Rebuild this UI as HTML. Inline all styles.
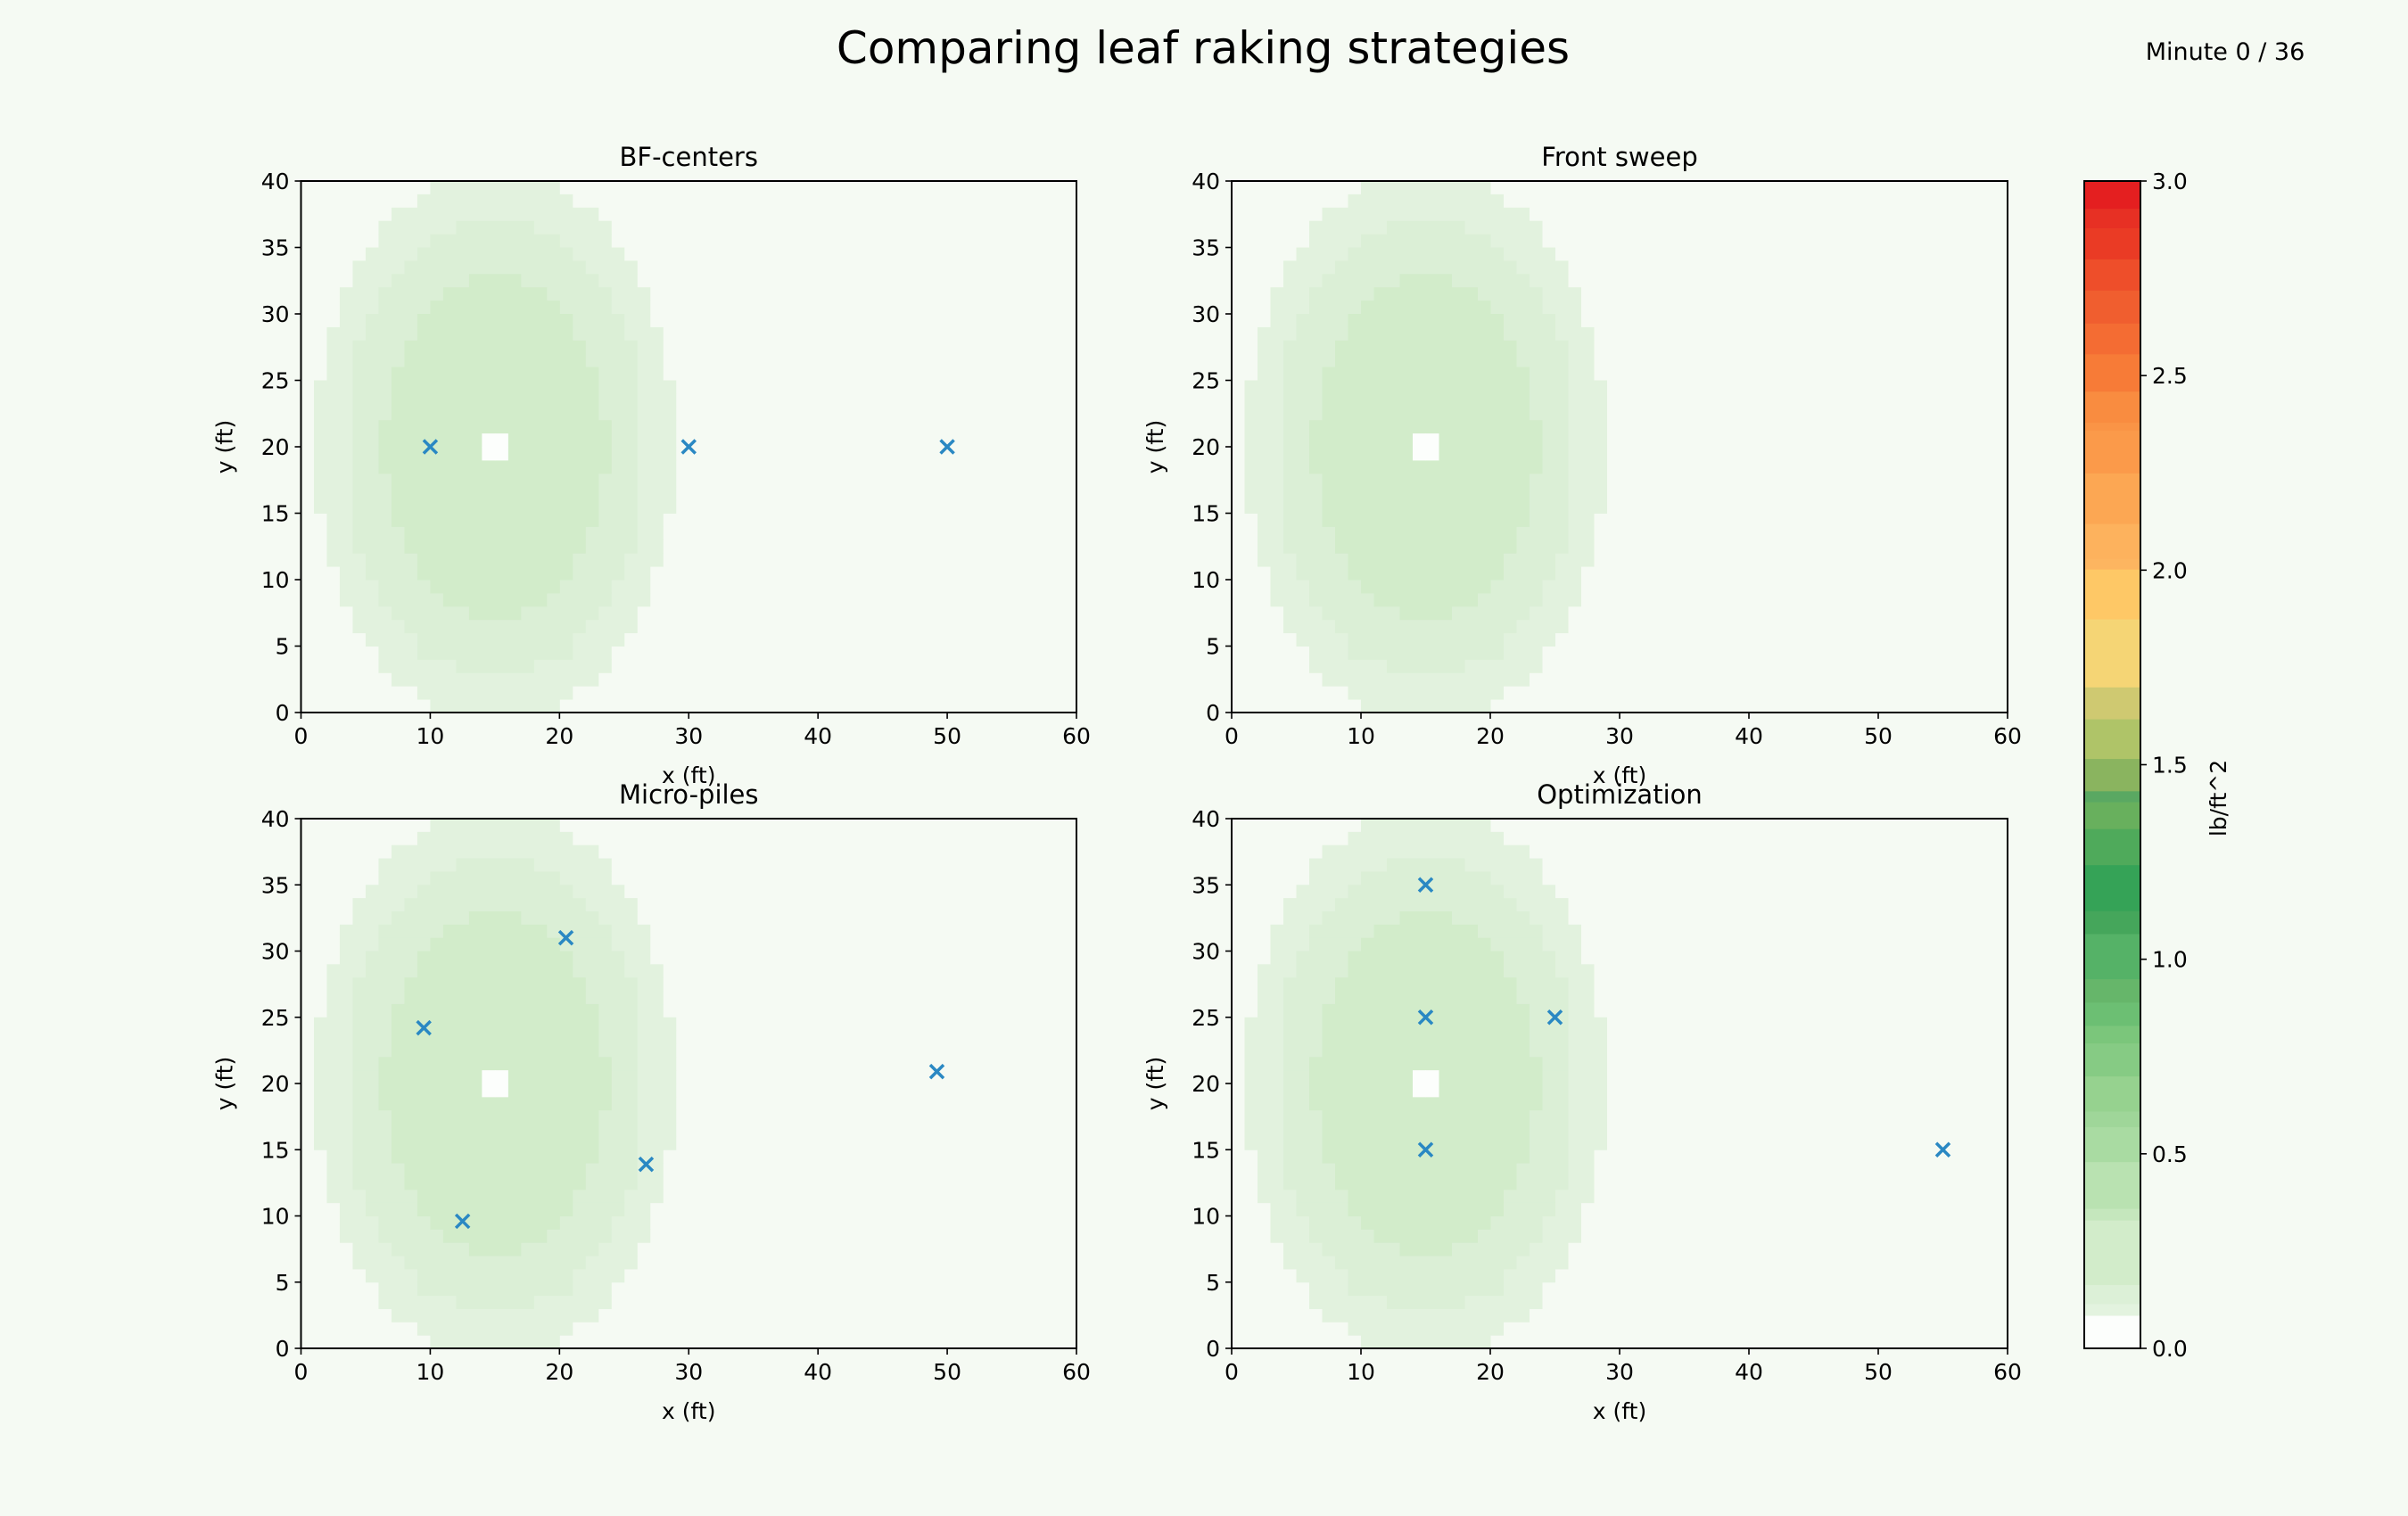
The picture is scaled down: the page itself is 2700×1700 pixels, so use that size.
<!DOCTYPE html>
<html><head><meta charset="utf-8"><style>
html,body{margin:0;padding:0;background:#f5faf3;}
svg{display:block;font-family:"DejaVu Sans","Liberation Sans",sans-serif;}
</style></head><body>
<svg id="fig" width="2700" height="1700" viewBox="0 0 2700 1700" xmlns="http://www.w3.org/2000/svg">
<rect width="2700" height="1700" fill="#f5faf3"/>
<text x="1349" y="71" font-size="50" text-anchor="middle" fill="#000">Comparing leaf raking strategies</text>
<text x="2495" y="67" font-size="27" text-anchor="middle" fill="#000">Minute 0 / 36</text>
</svg>
<script>
// ---- data ----
const panelTitles = ["BF-centers","Front sweep","Micro-piles","Optimization"];
const xTicks = [0,10,20,30,40,50,60];
const yTicks = [0,5,10,15,20,25,30,35,40];
// ring extents per row (row 0 = top row, y 39..40 ft); [x0,x1] in ft
const outerRing = [[10,20],[9,21],[7,23],[6,24],[6,24],[5,25],[4,26],[4,26],[3,27],[3,27],[3,27],[2,28],[2,28],[2,28],[2,28],
 [1,29],[1,29],[1,29],[1,29],[1,29],[1,29],[1,29],[1,29],[1,29],[1,29],[2,28],[2,28],[2,28],[2,28],[3,27],[3,27],[3,27],[4,26],[4,26],[5,25],[6,24],[6,24],[7,23],[9,21],[10,20]];
const middleRing = [null,null,null,[12,18],[10,20],[9,21],[8,22],[7,23],[6,24],[6,24],[5,25],[5,25],[4,26],[4,26],[4,26],
 [4,26],[4,26],[4,26],[4,26],[4,26],[4,26],[4,26],[4,26],[4,26],[4,26],[4,26],[4,26],[4,26],[5,25],[5,25],[6,24],[6,24],[7,23],[8,22],[9,21],[9,21],[12,18],null,null,null];
const innerRing = [null,null,null,null,null,null,null,[13,17],[11,19],[10,20],[9,21],[9,21],[8,22],[8,22],[7,23],[7,23],[7,23],[7,23],
 [6,24],[6,24],[6,24],[6,24],[7,23],[7,23],[7,23],[7,23],[8,22],[8,22],[9,21],[9,21],[10,20],[11,19],[13,17],null,null,null,null,null,null,null];
const emptyCells = [[14,19],[15,19],[14,20],[15,20]]; // [x,y] lower-left ft
const ringColors = ["#e2f2de","#dbefd6","#d2ecca"];
const markersX = [[10,30,50],[],[9.5,20.5,26.7,49.2,12.5],[15,15,25,15,55]];
const markersY = [[20,20,20],[],[24.2,31,13.9,20.9,9.6],[35,25,25,15,15]];
const cbTicks = [0,0.5,1.0,1.5,2.0,2.5,3.0];
const cbLevels = [0,0.085,0.115,0.164,0.33,0.36,0.48,0.57,0.61,0.70,0.785,0.83,0.89,0.95,1.066,1.125,1.243,1.336,1.405,1.433,1.516,1.618,1.70,1.875,2.003,2.03,2.12,2.25,2.36,2.38,2.46,2.556,2.635,2.72,2.80,2.88,2.93];
const cbColors = ["#fcfefc","#e3f3df","#dcf0d7","#d2ecca","#c5e7bd","#b9e2b1","#a9dba2","#9fd699","#96d28f","#86cb84","#7bc67b","#6cbf73","#66b66a","#55b267","#45a65b","#35a357","#4faa5b","#68b05d","#5aa862","#8ab45f","#afc468","#cfc971","#f5d575","#fec866","#fdb560","#fdb25d","#fca753","#fb9a4a","#fa9446","#f98c40","#f77b37","#f46c33","#f05e2f","#ee4e2a","#ea3b25","#e73024","#e41f20"];

// ---- layout ----
const NS="http://www.w3.org/2000/svg";
const svg=document.getElementById('fig');
function mk(tag,attrs,parent){const e=document.createElementNS(NS,tag);for(const k in attrs)e.setAttribute(k,attrs[k]);(parent||svg).appendChild(e);return e;}
const panels=[{x0:337.5,x1:1207,y0:203,y1:799},{x0:1381,x1:2251,y0:203,y1:799},{x0:337.5,x1:1207,y0:918,y1:1512},{x0:1381,x1:2251,y0:918,y1:1512}];
panels.forEach((p,i)=>{
  const g=mk('g',{});
  
  
  const sx=v=>p.x0+(p.x1-p.x0)*v/60, sy=v=>p.y1-(p.y1-p.y0)*v/40;
  mk('rect',{x:p.x0,y:p.y0,width:p.x1-p.x0,height:p.y1-p.y0,fill:'#f5faf3'},g);
  [outerRing,middleRing,innerRing].forEach((ring,ri)=>{
    ring.forEach((ext,r)=>{
      if(!ext)return;
      const yTop=40-r;
      const c=mk('rect',{x:sx(ext[0]),y:sy(yTop),width:sx(ext[1])-sx(ext[0])+0.5,height:sy(yTop-1)-sy(yTop)+0.5,fill:ringColors[ri]},g);
      
      
    });
  });
  emptyCells.forEach(ec=>{
    const c=mk('rect',{x:sx(ec[0]),y:sy(ec[1]+1),width:sx(ec[0]+1)-sx(ec[0])+0.5,height:sy(ec[1])-sy(ec[1]+1)+0.5,fill:'#fcfefc'},g);
    
    
  });
  markersX[i].forEach((mx,j)=>{
    const cx=sx(mx),cy=sy(markersY[i][j]),d=7.5;
    const m=mk('path',{d:`M${cx-d},${cy-d}L${cx+d},${cy+d}M${cx-d},${cy+d}L${cx+d},${cy-d}`,stroke:'#2a88c3','stroke-width':3.5,fill:'none'},g);
    
    
  });
  const fr=mk('rect',{x:p.x0,y:p.y0,width:p.x1-p.x0,height:p.y1-p.y0,fill:'none',stroke:'#000','stroke-width':2},g);
  
  
  xTicks.forEach(t=>{
    mk('line',{x1:sx(t),x2:sx(t),y1:p.y1,y2:p.y1+7,stroke:'#000','stroke-width':1.6},g);
    const tl=mk('text',{x:sx(t),y:p.y1+35,'font-size':25,'text-anchor':'middle'},g);tl.textContent=t;
    
    
  });
  yTicks.forEach(t=>{
    mk('line',{x1:p.x0,x2:p.x0-7,y1:sy(t),y2:sy(t),stroke:'#000','stroke-width':1.6},g);
    const tl=mk('text',{x:p.x0-13,y:sy(t)+9,'font-size':25,'text-anchor':'end'},g);tl.textContent=t;
    
    
  });
  const tt=mk('text',{x:(p.x0+p.x1)/2,y:p.y0-17,'font-size':29,'text-anchor':'middle'},g);tt.textContent=panelTitles[i];
  
  
  const xl=mk('text',{x:(p.x0+p.x1)/2,y:p.y1+79,'font-size':25,'text-anchor':'middle'},g);xl.textContent='x (ft)';
  
  
  const yx=p.x0-77,yy=(p.y0+p.y1)/2;
  const yl=mk('text',{x:yx,y:yy,'font-size':25,'text-anchor':'middle',transform:`rotate(-90 ${yx} ${yy})`},g);yl.textContent='y (ft)';
  
  
});
// colorbar
const cb={x0:2337,x1:2400,y0:203,y1:1512};
const cg=mk('g',{});


const cy=v=>cb.y1-(cb.y1-cb.y0)*v/3;
cbLevels.forEach((lv,k)=>{
  const top=k+1<cbLevels.length?cbLevels[k+1]:3;
  const r=mk('rect',{x:cb.x0,y:cy(top),width:cb.x1-cb.x0,height:cy(lv)-cy(top)+0.6,fill:cbColors[k]},cg);
  
  
});
mk('rect',{x:cb.x0,y:cb.y0,width:cb.x1-cb.x0,height:cb.y1-cb.y0,fill:'none',stroke:'#000','stroke-width':2},cg);
cbTicks.forEach(t=>{
  mk('line',{x1:cb.x1,x2:cb.x1+7,y1:cy(t),y2:cy(t),stroke:'#000','stroke-width':1.6},cg);
  const tl=mk('text',{x:cb.x1+13,y:cy(t)+9,'font-size':25},cg);tl.textContent=t.toFixed(1);
  
  
});
const cl=mk('text',{x:2496,y:895,'font-size':25,'text-anchor':'middle',transform:'rotate(-90 2496 895)'},cg);cl.textContent='lb/ft^2';


</script>
</body></html>
